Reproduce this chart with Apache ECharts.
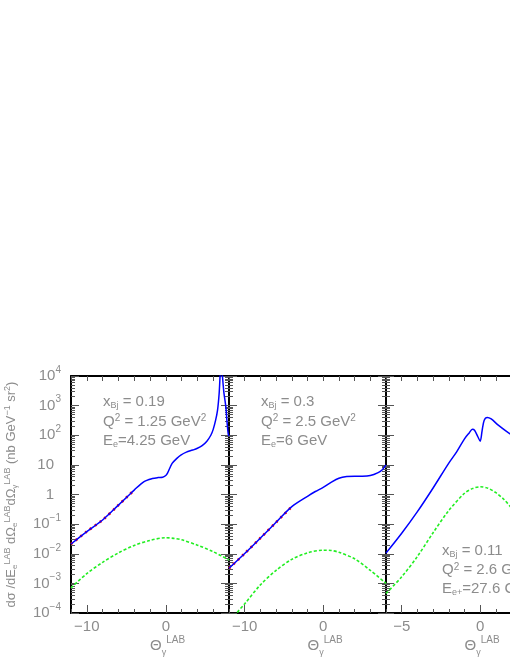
<!DOCTYPE html>
<html>
<head>
<meta charset="utf-8">
<script src="https://cdn.jsdelivr.net/npm/echarts@6/dist/echarts.min.js"></script>
<style>
  html, body { margin: 0; padding: 0; overflow: hidden; background: #fff; }
  #chart { width: 560px; height: 660px; }
</style>
</head>
<body>
<div id="chart"></div>
<script>
// panel 1 : x_Bj = 0.19, E_e = 4.25 GeV
var blue1 = [[-12, 0.0214], [-10, 0.0562], [-8, 0.138], [-6, 0.437], [-4.9, 0.832], [-4, 1.41],
  [-2.8, 2.69], [-1.7, 3.47], [-1, 3.72], [-0.4, 3.80], [0, 4.37], [0.2, 5.13], [0.8, 11.2],
  [1.4, 16.6], [1.9, 21.4], [2.6, 26.9], [3.4, 31.6], [4, 36.3], [4.6, 44.7], [5.2, 63.1],
  [5.7, 100], [6.0, 158], [6.3, 316], [6.55, 708], [6.75, 2512], [6.87, 10000], [7.0, 39800],
  [7.17, 10000], [7.35, 2818], [7.6, 912], [7.75, 282], [7.9, 112], [8, 93.3]];
var red1 = [[-12, 0.0214], [-10, 0.0562], [-8, 0.138], [-6, 0.437], [-4.9, 0.832], [-4, 1.41]];
var green1 = [[-12, 7.08e-4], [-10, 2.14e-3], [-8, 5.13e-3], [-6, 0.0107], [-4, 0.0191], [-2, 0.0282],
  [0, 0.0347], [1, 0.0331], [2, 0.0295], [4, 0.0195], [6, 0.0117], [8, 6.17e-3]];

// panel 2 : x_Bj = 0.3, E_e = 6 GeV
var blue2 = [[-12, 3.24e-3], [-10, 0.0102], [-8, 0.0339], [-6, 0.115], [-4, 0.389], [-2, 0.871],
  [-1, 1.26], [0, 1.74], [1, 2.57], [2, 3.55], [3, 4.07], [4, 4.17], [5, 4.17], [6, 4.37],
  [7, 5.50], [7.5, 6.76], [8, 10]];
var red2 = [[-12, 3.24e-3], [-10, 0.0102], [-8, 0.0339], [-6, 0.115], [-4, 0.389]];
var green2 = [[-12, 3.98e-5], [-11, 1e-4], [-10, 2.04e-4], [-8, 8.91e-4], [-6, 2.75e-3], [-4, 6.46e-3],
  [-2, 0.0107], [0, 0.0132], [1, 0.0129], [2, 0.0112], [4, 6.76e-3], [6, 2.75e-3], [8, 1e-3]];

// panel 3 : x_Bj = 0.11, E_e+ = 27.6 GeV
var blue3 = [[-6, 0.0105], [-5, 0.049], [-4, 0.263], [-3, 1.66], [-2, 11.5], [-1.5, 27.5], [-1, 75.9],
  [-0.7, 120], [-0.5, 158], [-0.35, 145], [-0.15, 89.1], [0, 63.1], [0.12, 141], [0.25, 316],
  [0.45, 398], [0.7, 355], [1.15, 219], [1.9, 112], [2.5, 79.4], [3, 63.1], [4, 39.8]];
var green3 = [[-6, 4.57e-4], [-5, 1.66e-3], [-4, 8.13e-3], [-3, 0.0513], [-2, 0.288], [-1, 1.10],
  [-0.5, 1.58], [0, 1.82], [0.5, 1.62], [1, 1.15], [1.5, 0.692], [2, 0.347], [3, 0.0794], [4, 0.0158]];

var xMajor12 = [-10, 0];
var xMinor12 = [-12, -10, -8, -6, -4, -2, 0, 2, 4, 6, 8];
var xMajor3 = [-5, 0];
var xMinor3 = [-6, -5, -4, -3, -2, -1, 0, 1, 2, 3, 4];

var texts1 = ['{n|x}{sb|Bj}{n| = 0.19}', '{n|Q}{sp|2}{n| = 1.25 GeV}{sp|2}', '{n|E}{sb|e}{n|=4.25 GeV}'];
var texts2 = ['{n|x}{sb|Bj}{n| = 0.3}', '{n|Q}{sp|2}{n| = 2.5 GeV}{sp|2}', '{n|E}{sb|e}{n|=6 GeV}'];
var texts3 = ['{n|x}{sb|Bj}{n| = 0.11}', '{n|Q}{sp|2}{n| = 2.6 GeV}{sp|2}', '{n|E}{sb|e+}{n|=27.6 GeV}'];

var FONT = 'Liberation Sans';
var GRAY = '#8c8c8c';

// minor log ticks (2..9 per decade), in log10 space for a helper axis
var minorLog = [];
for (var k = -4; k < 4; k++) {
  for (var m = 2; m <= 9; m++) minorLog.push(k + Math.log10(m));
}

// rich styles for axis labels / names
var rich = {
  n: { fontSize: 15, fontFamily: FONT, color: GRAY, lineHeight: 22, verticalAlign: 'middle' },
  t: { fontSize: 15, fontFamily: FONT, color: GRAY, lineHeight: 22, verticalAlign: 'middle' },
  sp: { fontSize: 10, fontFamily: FONT, color: GRAY, lineHeight: 10, verticalAlign: 'top' },
  sb: { fontSize: 9, fontFamily: FONT, color: GRAY, lineHeight: 9, verticalAlign: 'bottom' },
  g1: { width: 7 },
  g0: { width: 7 }
};
// tighter rich styles for the in-panel texts and the y title
function tightRich(size, small) {
  return {
    n: { fontSize: size, fontFamily: FONT, color: GRAY, fill: GRAY, lineHeight: 16, verticalAlign: 'middle' },
    sp: { fontSize: small, fontFamily: FONT, color: GRAY, fill: GRAY, lineHeight: 10, verticalAlign: 'top' },
    sb: { fontSize: small - 1, fontFamily: FONT, color: GRAY, fill: GRAY, lineHeight: 9, verticalAlign: 'bottom' }
  };
}
var richA = tightRich(15, 10);
var richT = tightRich(13, 9);

var panels = [
  { left: 71, width: 158, min: -12, max: 8, major: xMajor12, minor: xMinor12, blue: blue1, red: red1, green: green1 },
  { left: 229, width: 157, min: -12, max: 8, major: xMajor12, minor: xMinor12, blue: blue2, red: red2, green: green2 },
  { left: 386, width: 157, min: -6, max: 4, major: xMajor3, minor: xMinor3, blue: blue3, red: null, green: green3 }
];

var frame = { show: true, onZero: false, lineStyle: { color: '#000', width: 2 } };
var noLine = { show: false, onZero: false };
var tickStyle = { color: '#555', width: 1 };

var grids = [], xAxes = [], yAxes = [], series = [];

panels.forEach(function (p, i) {
  grids.push({ left: p.left, top: 376, width: p.width, height: 237 });

  // bottom axis with labels and short ticks
  xAxes.push({
    gridIndex: i, type: 'value', min: p.min, max: p.max, position: 'bottom',
    axisLine: frame,
    axisTick: { inside: true, length: 4, customValues: p.minor, lineStyle: tickStyle },
    axisLabel: {
      customValues: p.major, color: GRAY, fontSize: 15, fontFamily: FONT, margin: 6,
      formatter: function (v) { return v < 0 ? '\u2212' + Math.abs(v) : String(v); }
    },
    splitLine: { show: false },
    name: '{t|\u0398}{sb|\u03b3}{sp|LAB}',
    nameLocation: 'middle', nameGap: 22,
    nameTextStyle: { align: 'left', verticalAlign: 'top', rich: rich }
  });
  // long ticks at major values
  xAxes.push({
    gridIndex: i, type: 'value', min: p.min, max: p.max, position: 'bottom',
    axisLine: noLine,
    axisTick: { inside: true, length: 8, customValues: p.major, lineStyle: tickStyle },
    axisLabel: { show: false }, splitLine: { show: false }
  });
  // top frame
  xAxes.push({
    gridIndex: i, type: 'value', min: p.min, max: p.max, position: 'top',
    axisLine: frame,
    axisTick: { inside: true, length: 5, customValues: p.minor, lineStyle: tickStyle },
    axisLabel: { show: false }, splitLine: { show: false }
  });

  var yMain = {
    gridIndex: i, type: 'log', logBase: 10, min: 1e-4, max: 1e4, interval: 1, position: 'left',
    axisLine: frame,
    axisTick: { inside: true, length: 8, lineStyle: tickStyle },
    axisLabel: { show: false },
    splitLine: { show: false }
  };
  if (i === 0) {
    yMain.axisLabel = {
      show: true, margin: 10,
      formatter: function (v) {
        var e = Math.round(Math.log10(v));
        if (e === 0) return '{n|1}{g0|}';
        if (e === 1) return '{n|10}{g1|}';
        return '{n|10}{sp|' + (e < 0 ? '\u2212' + (-e) : e) + '}';
      },
      rich: rich
    };
    yMain.name = '{n|d\u03c3 /dE}{sb|e}{sp|LAB}{n| d\u03a9}{sb|e}{sp|LAB}{n|d\u03a9}{sb|\u03b3}{sp|LAB}' +
      '{n| (nb GeV}{sp|\u22121}{n| sr}{sp|2}{n|)}';
    yMain.nameLocation = 'middle';
    yMain.nameGap = 52;
    yMain.nameRotate = 90;
    yMain.nameTextStyle = { rich: richT };
  }
  yAxes.push(yMain);
  yAxes.push({
    gridIndex: i, type: 'value', min: -4, max: 4, position: 'left',
    axisLine: noLine,
    axisTick: { inside: true, length: 4, customValues: minorLog, lineStyle: tickStyle },
    axisLabel: { show: false }, splitLine: { show: false }
  });
  yAxes.push({
    gridIndex: i, type: 'log', logBase: 10, min: 1e-4, max: 1e4, interval: 1, position: 'right',
    axisLine: frame,
    axisTick: { inside: true, length: 8, lineStyle: tickStyle },
    axisLabel: { show: false }, splitLine: { show: false }
  });
  yAxes.push({
    gridIndex: i, type: 'value', min: -4, max: 4, position: 'right',
    axisLine: noLine,
    axisTick: { inside: true, length: 4, customValues: minorLog, lineStyle: tickStyle },
    axisLabel: { show: false }, splitLine: { show: false }
  });

  var xi = i * 3, yi = i * 4;
  series.push({
    type: 'line', xAxisIndex: xi, yAxisIndex: yi, data: p.green, showSymbol: false, symbol: 'none',
    smooth: 0.3, lineStyle: { color: '#22ee22', width: 1.6, type: [3, 2] }, z: 2
  });
  if (p.red) {
    series.push({
      type: 'line', xAxisIndex: xi, yAxisIndex: yi, data: p.red, showSymbol: false, symbol: 'none',
      smooth: 0.3, lineStyle: { color: '#ff0000', width: 2.6, type: [2, 4] }, z: 3
    });
  }
  series.push({
    type: 'line', xAxisIndex: xi, yAxisIndex: yi, data: p.blue, showSymbol: false, symbol: 'none',
    smooth: 0.3, lineStyle: { color: '#0000ff', width: 1.5 }, z: 4
  });
});

function textBlock(lines, x, y0, dy) {
  return lines.map(function (t, j) {
    return {
      type: 'text', x: x, y: y0 + j * dy, z: 10,
      style: { text: t, rich: richA, verticalAlign: 'middle', fill: GRAY, font: '15px ' + FONT }
    };
  });
}

var graphics = []
  .concat(textBlock(texts1, 103, 402, 19.5))
  .concat(textBlock(texts2, 261, 402, 19.5))
  .concat(textBlock(texts3, 442, 551, 19));

var chart = echarts.init(document.getElementById('chart'));
chart.setOption({
  backgroundColor: '#fff',
  animation: false,
  grid: grids,
  xAxis: xAxes,
  yAxis: yAxes,
  series: series,
  graphic: graphics
});
</script>
</body>
</html>
